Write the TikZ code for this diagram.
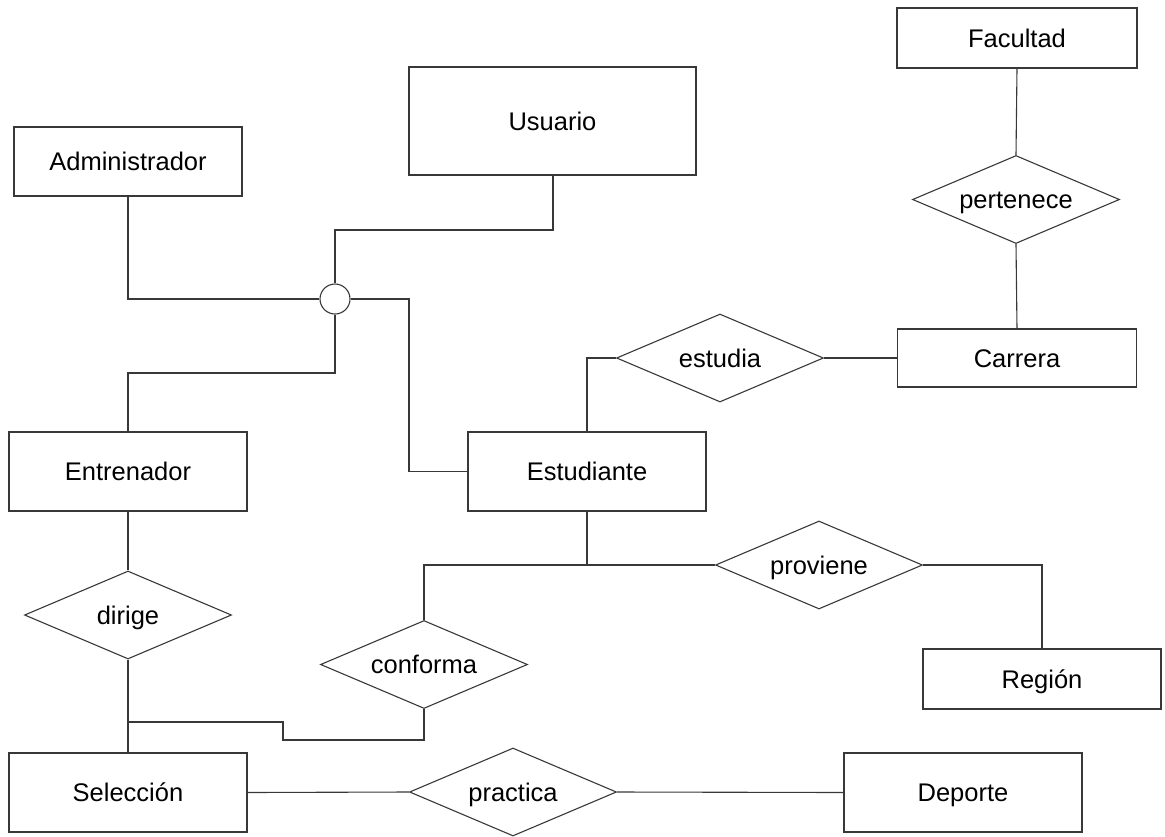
\documentclass[tikz,border=0pt]{standalone}
\usepackage{fontspec}
\setmainfont{Liberation Sans}
\usetikzlibrary{shapes.geometric}
\begin{document}
\begin{tikzpicture}[x=1pt,y=-1pt,
  every node/.style={font=\fontsize{25.5}{30}\selectfont, text height=18.3pt, text depth=0pt, inner sep=0pt},
  ent/.style={draw=black!78, line width=1.1pt, rectangle, minimum width=238pt, minimum height=79pt},
  rel/.style={draw=black!78, line width=1.1pt, diamond, shape aspect=2.35, minimum width=207pt, minimum height=88pt},
  isa/.style={draw=black!78, line width=1.1pt, circle, minimum size=30pt, text height=0pt},
  conn/.style={draw=black!78, line width=1.1pt}]
\useasboundingbox (0,0) rectangle (1165,836);
% entities
\node[ent, minimum width=240pt, minimum height=60pt] (fac) at (1017,38) {Facultad};
\node[ent, minimum width=287pt, minimum height=108pt] (usu) at (552.5,121) {Usuario};
\node[ent, minimum width=228pt, minimum height=69pt] (adm) at (128,161.5) {Administrador};
\node[ent, minimum width=239pt, minimum height=58pt] (car) at (1017,358) {Carrera};
\node[ent] (entr) at (128,471.5) {Entrenador};
\node[ent] (est) at (587,471.5) {Estudiante};
\node[ent, minimum height=60pt] (reg) at (1042,679) {Región};
\node[ent] (sel) at (128,792.5) {Selección};
\node[ent] (dep) at (963,792.5) {Deporte};
% relationships
\node[rel] (per) at (1016,199.5) {pertenece};
\node[rel] (estu) at (720,358) {estudia};
\node[rel] (prov) at (819,565) {proviene};
\node[rel] (dir) at (128,615) {dirige};
\node[rel] (conf) at (424,664.5) {conforma};
\node[rel] (prac) at (513,792) {practica};
% generalization circle
\node[isa] (gen) at (335,299) {};
% helper coordinates
\coordinate (u1) at (553,230);
\coordinate (e1) at (409,299);
\coordinate (n1) at (335,373);
\coordinate (s1) at (587,565);
\coordinate (b1) at (128,722);
\coordinate (b2) at (283,722);
\coordinate (b3) at (283,740);
% connectors
\draw[conn] (fac.south) -- (per.north);
\draw[conn] (per.south) -- (car.north);
\draw[conn] (car.west) -- (estu.east);
\draw[conn] (estu.west) -| (est.north);
\draw[conn] (usu.south -| u1) -- (u1) -| (gen.north);
\draw[conn] (adm.south) |- (gen.west);
\draw[conn] (gen.east) -- (e1) |- (est.west);
\draw[conn] (gen.south) -- (n1) -| (entr.north);
\draw[conn] (entr.south) -- (dir.north);
\draw[conn] (dir.south) -- (sel.north);
\draw[conn] (b1) -- (b2) -- (b3) -| (conf.south);
\draw[conn] (est.south) -- (s1);
\draw[conn] (prov.west) -- (s1) -| (conf.north);
\draw[conn] (prov.east) -| (reg.north);
\draw[conn] (sel.east) -- (prac.west);
\draw[conn] (prac.east) -- (dep.west);
\end{tikzpicture}
\end{document}
